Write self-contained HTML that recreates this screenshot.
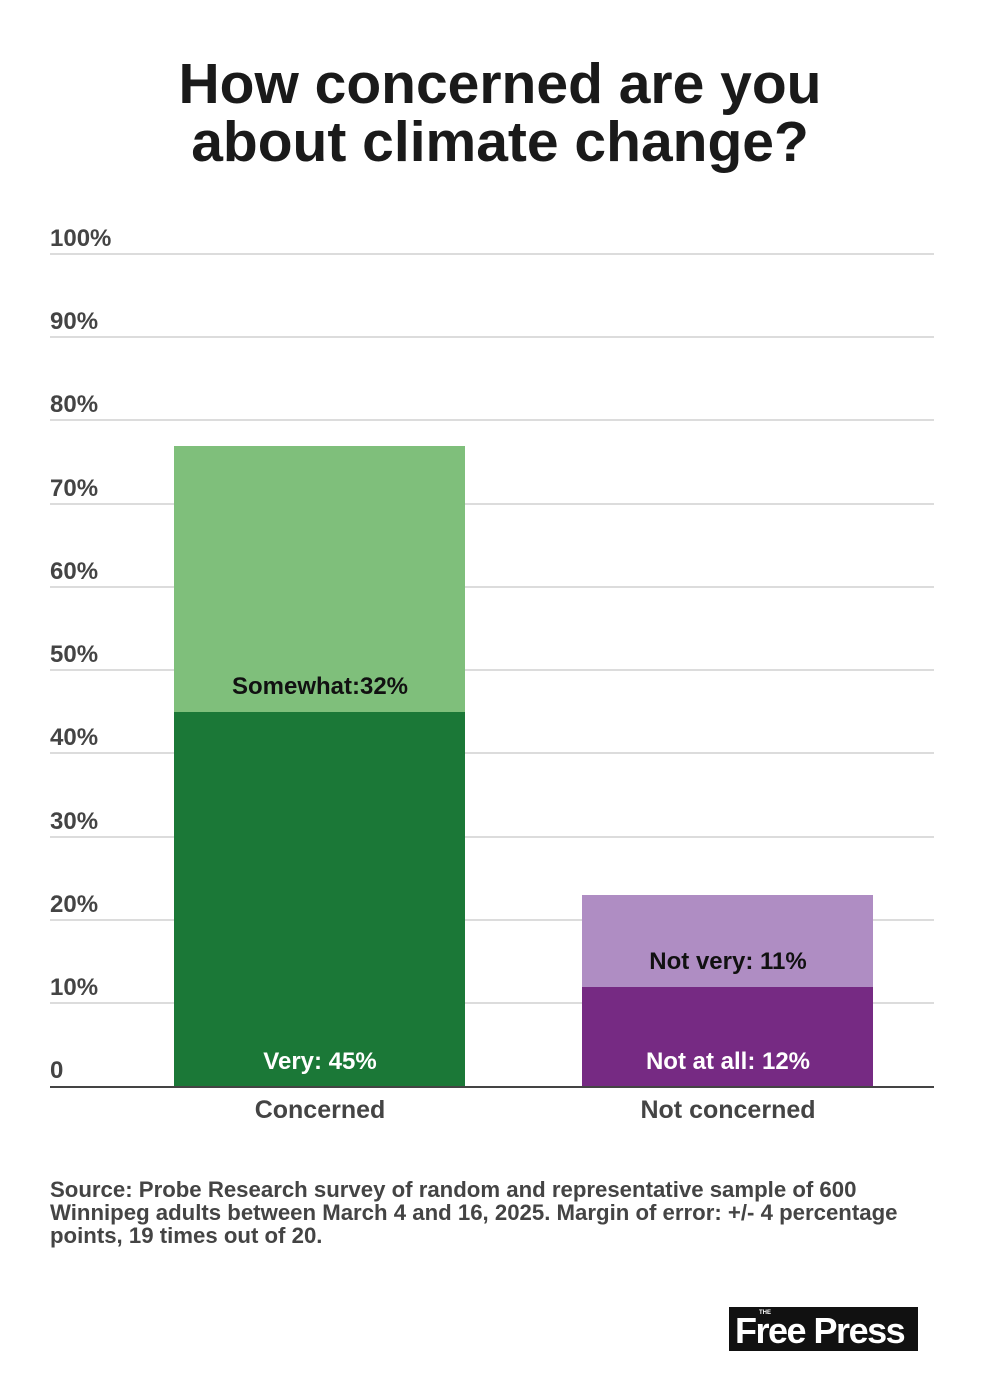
<!DOCTYPE html>
<html><head><meta charset="utf-8"><style>
body{margin:0;background:#fff;}
#c{position:relative;width:1000px;height:1383px;overflow:hidden;font-family:"Liberation Sans",Arial,sans-serif;}
.t{position:absolute;left:0;width:1000px;text-align:center;font-weight:bold;font-size:57px;color:#1a1a1a;letter-spacing:0px;line-height:60px;}
.g{position:absolute;left:50px;width:884px;height:2px;background:#dcdcdc;}
.yl{position:absolute;left:50px;font-size:24px;font-weight:bold;color:#444;}
.b{position:absolute;}
.bl{position:absolute;font-size:24px;font-weight:bold;text-align:center;width:292px;}
.xl{position:absolute;font-size:25px;font-weight:bold;color:#444;text-align:center;width:292px;top:1096px;}
</style></head><body><div id="c">
<div class="t" style="top:54px">How concerned are you</div>
<div class="t" style="top:112px">about climate change?</div>

<div class="g" style="top:253px"></div><div class="yl" style="top:225px">100%</div>
<div class="g" style="top:336px"></div><div class="yl" style="top:308px">90%</div>
<div class="g" style="top:419px"></div><div class="yl" style="top:391px">80%</div>
<div class="g" style="top:503px"></div><div class="yl" style="top:475px">70%</div>
<div class="g" style="top:586px"></div><div class="yl" style="top:558px">60%</div>
<div class="g" style="top:669px"></div><div class="yl" style="top:641px">50%</div>
<div class="g" style="top:752px"></div><div class="yl" style="top:724px">40%</div>
<div class="g" style="top:836px"></div><div class="yl" style="top:808px">30%</div>
<div class="g" style="top:919px"></div><div class="yl" style="top:891px">20%</div>
<div class="g" style="top:1002px"></div><div class="yl" style="top:974px">10%</div>
<div class="yl" style="top:1057px">0</div>

<div class="b" style="left:174px;top:446px;width:291px;height:266px;background:#7fbf7b"></div>
<div class="b" style="left:174px;top:712px;width:291px;height:375px;background:#1b7837"></div>
<div class="b" style="left:582px;top:895px;width:291px;height:92px;background:#af8dc3"></div>
<div class="b" style="left:582px;top:987px;width:291px;height:100px;background:#762a83"></div>
<div class="b" style="left:50px;top:1086px;width:884px;height:2px;background:#444"></div>

<div class="bl" style="left:174px;top:673px;color:#111">Somewhat:32%</div>
<div class="bl" style="left:174px;top:1048px;color:#fff">Very: 45%</div>
<div class="bl" style="left:582px;top:948px;color:#111">Not very: 11%</div>
<div class="bl" style="left:582px;top:1048px;color:#fff">Not at all: 12%</div>

<div class="xl" style="left:174px">Concerned</div>
<div class="xl" style="left:582px">Not concerned</div>

<div style="position:absolute;left:50px;top:1178px;width:900px;font-size:22.2px;font-weight:bold;color:#444;line-height:23px;">Source: Probe Research survey of random and representative sample of 600<br>Winnipeg adults between March 4 and 16, 2025. Margin of error: +/- 4 percentage<br>points, 19 times out of 20.</div>

<div style="position:absolute;left:729px;top:1307px;width:189px;height:44px;background:#111;color:#fff;">
<div style="position:absolute;left:30px;top:3px;font-size:6px;font-weight:bold;">THE</div>
<div style="position:absolute;left:6px;top:3px;font-size:36px;font-weight:bold;letter-spacing:-1.5px;font-family:'Liberation Sans',sans-serif;">Free Press</div>
</div>
</div></body></html>
